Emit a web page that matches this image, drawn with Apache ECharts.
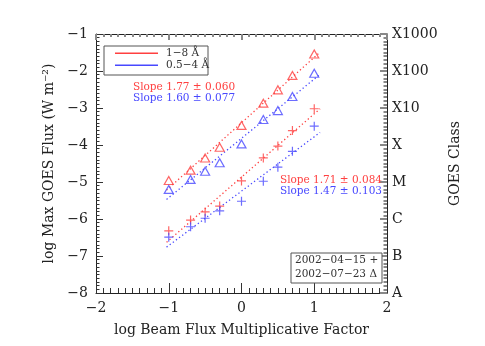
<!DOCTYPE html>
<html><head><meta charset="utf-8">
<script src="https://cdn.jsdelivr.net/npm/echarts@6/dist/echarts.min.js"></script>
<style>html,body{margin:0;padding:0;background:#fff}#c{width:485px;height:346px}</style>
</head><body><div id="c"></div>
<script>
var xs = [-1, -0.7, -0.5, -0.3, 0, 0.3, 0.5, 0.7, 1];
var redTri  = [-4.96, -4.68, -4.35, -4.06, -3.47, -2.87, -2.51, -2.12, -1.54];
var blueTri = [-5.20, -4.93, -4.71, -4.48, -3.97, -3.31, -3.07, -2.69, -2.06];
var redPlus = [-6.32, -6.03, -5.81, -5.65, -4.97, -4.35, -4.03, -3.61, -3.02];
var bluePlus= [-6.49, -6.21, -5.98, -5.78, -5.52, -4.98, -4.60, -4.17, -3.49];
var fitRedTri  = [[-1.03, -5.22], [1.08, -1.49]];
var fitBlueTri = [[-1.03, -5.47], [1.08, -2.09]];
var fitRedPlus = [[-1.03, -6.63], [1.08, -3.02]];
var fitBluePlus= [[-1.03, -6.76], [1.08, -3.66]];
var classLabels = {'-8':'A','-7':'B','-6':'C','-5':'M','-4':'X','-3':'X10','-2':'X100','-1':'X1000'};
var slopeTexts = ['Slope 1.77 \u00b1 0.060','Slope 1.60 \u00b1 0.077','Slope 1.71 \u00b1 0.084','Slope 1.47 \u00b1 0.103'];
var legendTexts = ['1\u22128 \u00c5','0.5\u22124 \u00c5'];
var dateTexts = ['2002\u221204\u221215 +','2002\u221207\u221223 \u0394'];

var RED = '#ff4040', BLUE = '#4848ff';
var FONT = 'DejaVu Serif';
function pair(a){ return xs.map(function(x,i){return [x,a[i]];}); }
function minus(v){ return String(v).replace('-', '\u2212'); }
var plusPath = 'path://M0,5L10,5M5,0L5,10';
var nameStyle = {fontFamily:FONT, fontSize:14, color:'#222'};
function axis(pos, min, max, tw, tl, mw, ml, col){
  return {type:'value', position:pos, min:min, max:max, interval:1,
    axisLine:{show:true, onZero:false, lineStyle:{color:'#222', width:1}},
    axisTick:{show:true, inside:true, length:tl, lineStyle:{color:col, width:tw}},
    minorTick:{show:true, splitNumber:10, length:ml, lineStyle:{color:col, width:mw}},
    splitLine:{show:false},
    axisLabel:{show:false, fontFamily:FONT, fontSize:14, color:'#222'}};
}
var xb = axis('bottom',-2,2, 1,10, 1,5, '#333');
xb.axisLabel.show = true; xb.axisLabel.formatter = minus; xb.axisLabel.margin = 8;
xb.name='log Beam Flux Multiplicative Factor'; xb.nameLocation='middle'; xb.nameGap=30; xb.nameTextStyle=nameStyle;
var xt = axis('top',-2,2, 2,6, 2,3, '#888');
var yl = axis('left',-8,-1, 1,7, 1,3.5, '#333');
yl.axisLabel.show = true; yl.axisLabel.formatter = minus; yl.axisLabel.margin = 8;
yl.name='log Max GOES Flux (W m\u207b\u00b2)'; yl.nameLocation='middle'; yl.nameGap=40; yl.nameRotate=90; yl.nameTextStyle=nameStyle;
var yr = axis('right',-8,-1, 2,7, 2,3.5, '#888');
yr.axisLabel.show = true; yr.axisLabel.formatter = function(v){ return classLabels[String(v)] || ''; }; yr.axisLabel.margin = 5;
yr.name='GOES Class'; yr.nameLocation='middle'; yr.nameGap=54; yr.nameRotate=90; yr.nameTextStyle=nameStyle;

function scat(data, col, sym){
  return {type:'scatter', xAxisIndex:0, yAxisIndex:0, data:pair(data), symbol:sym, symbolSize: sym==='triangle'?[9,8]:9,
    itemStyle:{color: sym==='triangle' ? 'rgba(0,0,0,0)' : col, borderColor:col, borderWidth:1.2}, silent:true, z:3};
}
function fit(d, col){
  return {type:'line', xAxisIndex:0, yAxisIndex:0, data:d, showSymbol:false, symbol:'none',
    lineStyle:{color:col, width:1.3, type:[1.3,2.6]}, silent:true, z:2};
}
var F = '10.5px "DejaVu Serif"';
var chart = echarts.init(document.getElementById('c'));
chart.setOption({
  animation:false,
  grid:{left:96, right:98, top:34, bottom:53},
  xAxis:[xb, xt],
  yAxis:[yl, yr],
  series:[
    fit(fitRedTri, RED), fit(fitBlueTri, BLUE), fit(fitRedPlus, RED), fit(fitBluePlus, BLUE),
    scat(redTri, RED, 'triangle'), scat(blueTri, BLUE, 'triangle'),
    scat(redPlus, RED, plusPath), scat(bluePlus, BLUE, plusPath)
  ],
  graphic:[
    {type:'rect', z:100, shape:{x:104, y:46, width:104, height:29}, style:{fill:'#fff', stroke:'#555', lineWidth:1}},
    {type:'rect', z:101, shape:{x:115, y:52.5, width:43, height:1.5}, style:{fill:RED}},
    {type:'rect', z:101, shape:{x:115, y:64.5, width:43, height:1.5}, style:{fill:BLUE}},
    {type:'text', z:101, x:166, y:53.5, style:{text:legendTexts[0], fill:'#333', font:F, verticalAlign:'middle'}},
    {type:'text', z:101, x:166, y:65.5, style:{text:legendTexts[1], fill:'#333', font:F, verticalAlign:'middle'}},
    {type:'text', z:101, x:133, y:87, style:{text:slopeTexts[0], fill:RED, font:F, verticalAlign:'middle'}},
    {type:'text', z:101, x:133, y:98.5, style:{text:slopeTexts[1], fill:BLUE, font:F, verticalAlign:'middle'}},
    {type:'text', z:101, x:382, y:180, style:{text:slopeTexts[2], fill:RED, font:F, verticalAlign:'middle', align:'right'}},
    {type:'text', z:101, x:382, y:191.5, style:{text:slopeTexts[3], fill:BLUE, font:F, verticalAlign:'middle', align:'right'}},
    {type:'rect', z:100, shape:{x:291, y:253, width:91, height:30}, style:{fill:'#fff', stroke:'#555', lineWidth:1}},
    {type:'text', z:101, x:295, y:260, style:{text:dateTexts[0], fill:'#333', font:F, verticalAlign:'middle'}},
    {type:'text', z:101, x:295, y:274, style:{text:dateTexts[1], fill:'#333', font:F, verticalAlign:'middle'}}
  ]
});
</script></body></html>
